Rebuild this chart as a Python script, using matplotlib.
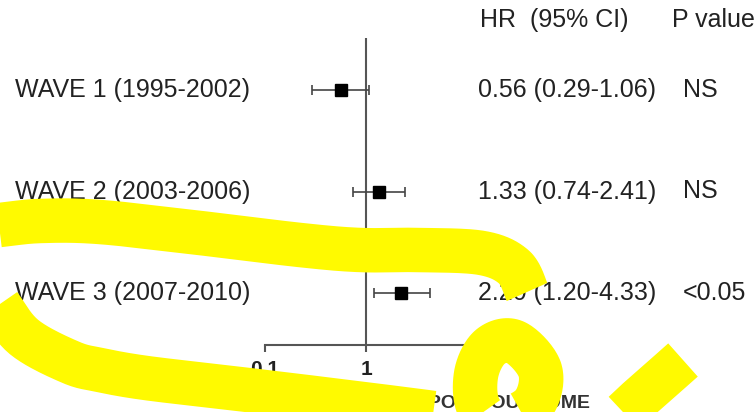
import numpy as np
import matplotlib
matplotlib.use("Agg")
import matplotlib.pyplot as plt
from matplotlib.lines import Line2D

plt.rcParams['font.family'] = ['Liberation Sans', 'DejaVu Sans']

# data
waves = ['WAVE 1 (1995-2002)', 'WAVE 2 (2003-2006)', 'WAVE 3 (2007-2010)']
hr = [0.56, 1.33, 2.20]
ci_low = [0.29, 0.74, 1.20]
ci_high = [1.06, 2.41, 4.33]
p_values = ['NS', 'NS', '<0.05']
x_ticks = [0.1, 1, 10]
x_ticklabels = ['0.1', '1', '10']

# yellow marker scribble over the picture, in pixels (y down)
scribble = [(527, 292), (514, 267), (482, 253), (420, 250), (360, 250), (300, 245),
            (200, 233), (100, 222), (40, 221), (0, 225), (-30, 228), (-44, 240),
            (-42, 256), (-24, 276), (-3, 302), (24, 337), (70, 362), (100, 370),
            (146, 378), (231, 388), (298, 396), (379, 406), (426, 412), (470, 418),
            (505, 419), (534, 403), (540, 370), (515, 342), (490, 347), (476, 375),
            (480, 410), (510, 432), (560, 440), (602, 430), (640, 398), (683, 360)]

W, H = 755, 412
fig = plt.figure(figsize=(W / 100, H / 100), dpi=100)
ax = fig.add_axes([265 / W, 1 - 345 / H, 202 / W, 307 / H])

ypos = np.arange(len(waves))
err = [np.array(hr) - np.array(ci_low), np.array(ci_high) - np.array(hr)]
ax.errorbar(hr, ypos, xerr=err, fmt='s', color='black', ms=9, ecolor='#444444',
            elinewidth=1.2, capsize=3.5, capthick=1.2, zorder=3)
ax.axvline(1, color='#555555', lw=1.5, zorder=1)

ax.set_xscale('log')
ax.set_xlim(0.1, 10)
ax.set_ylim(2.51, -0.51)
ax.set_xticks(x_ticks)
ax.set_xticklabels(x_ticklabels, fontsize=15, fontweight='bold', color='#222222')
ax.minorticks_off()
ax.set_yticks([])
ax.tick_params(axis='x', length=5, width=1.5, color='#555555', pad=6)
for s in ['top', 'right', 'left']:
    ax.spines[s].set_visible(False)
ax.spines['bottom'].set_color('#555555')
ax.spines['bottom'].set_linewidth(1.5)

tr = ax.get_yaxis_transform()
for i in range(len(waves)):
    ax.text(-1.238, ypos[i], waves[i], transform=tr, ha='left', va='center',
            fontsize=18, color='#222222')
    ax.text(1.054, ypos[i], '%.2f (%.2f-%.2f)' % (hr[i], ci_low[i], ci_high[i]),
            transform=tr, ha='left', va='center', fontsize=18, color='#222222')
    ax.text(2.069, ypos[i], p_values[i], transform=tr, ha='left', va='center',
            fontsize=18, color='#222222')

ax.text(1.064, -0.69, 'HR  (95% CI)', transform=tr, ha='left', va='center',
        fontsize=18, color='#222222')
ax.text(2.015, -0.69, 'P value', transform=tr, ha='left', va='center',
        fontsize=18, color='#222222')
ax.text(0.807, -0.19, 'POOR OUTCOME', transform=ax.transAxes, ha='left',
        va='center', fontsize=14, fontweight='bold', color='#333333')


def smooth(pts, n=20):
    p = np.array(pts, float)
    p = np.vstack([p[0], p, p[-1]])
    out = []
    t = np.linspace(0, 1, n, endpoint=False)[:, None]
    for i in range(1, len(p) - 2):
        p0, p1, p2, p3 = p[i - 1], p[i], p[i + 1], p[i + 2]
        out.append(0.5 * (2 * p1 + (-p0 + p2) * t + (2 * p0 - 5 * p1 + 4 * p2 - p3) * t ** 2
                          + (-p0 + 3 * p1 - 3 * p2 + p3) * t ** 3))
    out.append(p[-2][None])
    return np.vstack(out)


sc = smooth(scribble)
fig.add_artist(Line2D(sc[:, 0] / W, 1 - sc[:, 1] / H, transform=fig.transFigure,
                      color='#fffa00', lw=32, solid_capstyle='butt',
                      solid_joinstyle='round', zorder=10))

fig.savefig('out.png', dpi=100)
